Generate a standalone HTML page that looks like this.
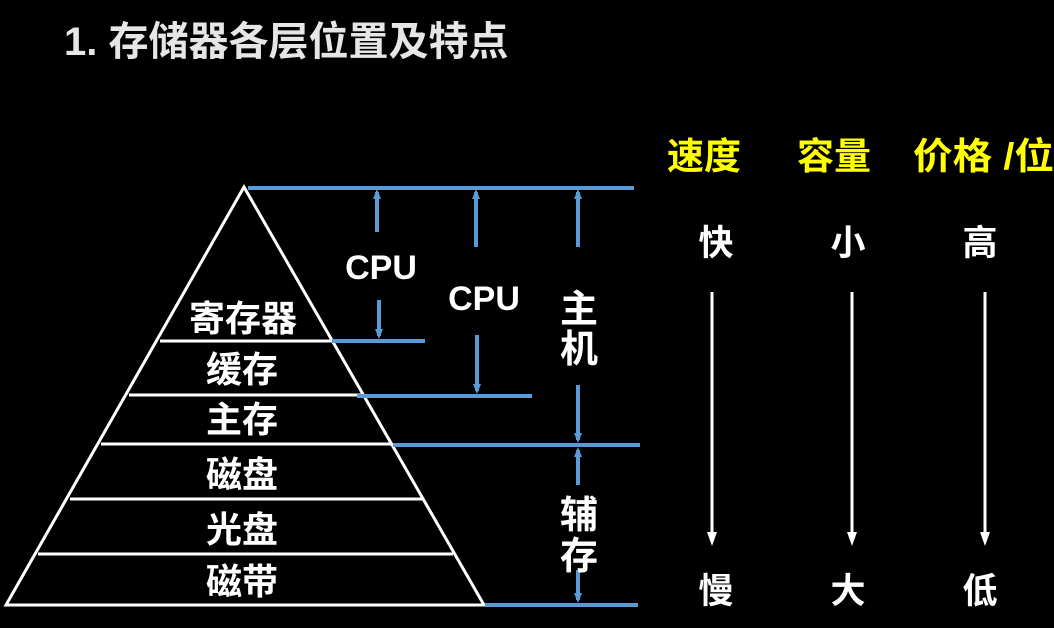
<!DOCTYPE html>
<html><head><meta charset="utf-8"><style>
html,body{margin:0;padding:0;background:#000;}
svg{display:block}
text{font-family:"Liberation Sans","Noto Sans CJK SC",sans-serif;font-weight:bold;}
</style></head><body>
<svg width="1054" height="628" viewBox="0 0 1054 628" xmlns="http://www.w3.org/2000/svg">
<rect width="1054" height="628" fill="#000"/>
<text x="64" y="55" font-size="40" fill="#e6e6e6">1. 存储器各层位置及特点</text>
<g stroke="#fff" stroke-width="3" fill="none">
<polygon points="244,187 6,605 484,605"/>
<line x1="160" y1="341" x2="332" y2="341"/>
<line x1="129" y1="395" x2="363" y2="395"/>
<line x1="101" y1="444" x2="391" y2="444"/>
<line x1="70" y1="499" x2="422" y2="499"/>
<line x1="38" y1="554" x2="453" y2="554"/>
</g>
<g fill="#fff" font-size="36" text-anchor="middle">
<text x="243" y="331">寄存器</text>
<text x="242" y="382">缓存</text>
<text x="242" y="432">主存</text>
<text x="242" y="487">磁盘</text>
<text x="242" y="542">光盘</text>
<text x="242" y="594">磁带</text>
</g>
<g stroke="#5b9bd5" stroke-width="4" fill="none">
<line x1="248" y1="188" x2="634" y2="188"/>
<line x1="332" y1="341" x2="425" y2="341"/>
<line x1="357" y1="396" x2="532" y2="396"/>
<line x1="393" y1="445" x2="640" y2="445"/>
<line x1="485" y1="605" x2="638" y2="605"/>
<line x1="377" y1="192" x2="377" y2="232"/>
<line x1="379" y1="300" x2="379" y2="336"/>
<line x1="476" y1="192" x2="476" y2="247"/>
<line x1="477" y1="335" x2="477" y2="391"/>
<line x1="578" y1="192" x2="578" y2="247"/>
<line x1="578" y1="385" x2="578" y2="440"/>
<line x1="578" y1="450" x2="578" y2="485"/>
<line x1="578" y1="570" x2="578" y2="600"/>
</g>
<g fill="#5b9bd5">
<polygon points="377,189 373,199 381,199"/>
<polygon points="379,339 375,329 383,329"/>
<polygon points="476,189 472,199 480,199"/>
<polygon points="477,394 473,384 481,384"/>
<polygon points="578,189 574,199 582,199"/>
<polygon points="578,443 574,433 582,433"/>
<polygon points="578,447 574,457 582,457"/>
<polygon points="578,603 574,593 582,593"/>
</g>
<g fill="#fff" font-size="34" text-anchor="middle">
<text x="381" y="279">CPU</text>
<text x="484" y="310">CPU</text>
</g>
<g fill="#fff" font-size="38" text-anchor="middle">
<text x="579" y="322">主</text>
<text x="579" y="362">机</text>
<text x="579" y="528">辅</text>
<text x="579" y="569">存</text>
</g>
<g fill="#ffff00" font-size="37">
<text x="667" y="169">速度</text>
<text x="797" y="169">容量</text>
<text x="913" y="169" textLength="141" lengthAdjust="spacingAndGlyphs">价格 /位</text>
</g>
<g fill="#fff" font-size="35" text-anchor="middle">
<text x="716" y="255">快</text>
<text x="848" y="255">小</text>
<text x="980" y="255">高</text>
<text x="716" y="603">慢</text>
<text x="848" y="603">大</text>
<text x="980" y="603">低</text>
</g>
<g stroke="#fff" stroke-width="3">
<line x1="712" y1="292" x2="712" y2="535"/>
<line x1="852" y1="292" x2="852" y2="535"/>
<line x1="985" y1="292" x2="985" y2="535"/>
</g>
<g fill="#fff">
<polygon points="712,546 707,532 717,532"/>
<polygon points="852,546 847,532 857,532"/>
<polygon points="985,546 980,532 990,532"/>
</g>
</svg>
</body></html>
